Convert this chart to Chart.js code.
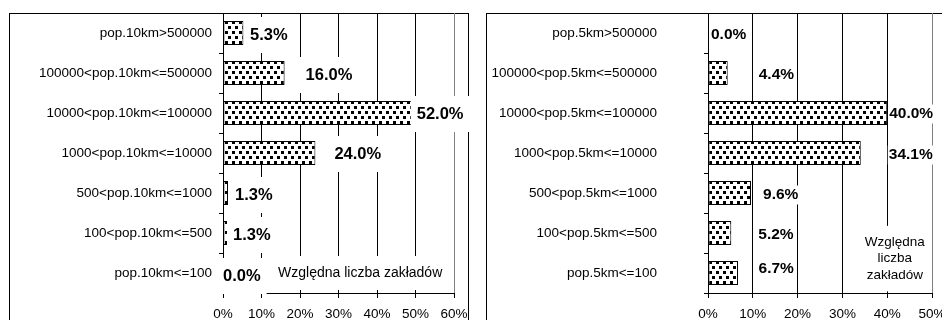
<!DOCTYPE html>
<html><head><meta charset="utf-8">
<script src="https://cdn.jsdelivr.net/npm/chart.js@4/dist/chart.umd.min.js"></script>
<style>
html,body{margin:0;padding:0;background:#fff;width:942px;height:320px;overflow:hidden;position:relative}
.box{position:absolute;border:1px solid #000;box-sizing:border-box}
#boxL{left:9px;top:13px;width:460px;height:400px}
#boxR{left:486px;top:13px;width:600px;height:400px}
canvas{position:absolute;top:0}
#cL{left:0}
#cR{left:470px}
</style></head><body>
<div class="box" id="boxL"></div><div class="box" id="boxR"></div>
<canvas id="cL" width="470" height="320"></canvas>
<canvas id="cR" width="480" height="320"></canvas>
<script>
// ---- data ----
const categoriesLeft = ['pop.10km>500000','100000<pop.10km<=500000','10000<pop.10km<=100000','1000<pop.10km<=10000','500<pop.10km<=1000','100<pop.10km<=500','pop.10km<=100'];
const valuesLeft = [5.3, 16.0, 52.0, 24.0, 1.3, 1.3, 0.0];
const categoriesRight = ['pop.5km>500000','100000<pop.5km<=500000','10000<pop.5km<=100000','1000<pop.5km<=10000','500<pop.5km<=1000','100<pop.5km<=500','pop.5km<=100'];
const valuesRight = [0.0, 4.4, 40.0, 34.1, 9.6, 5.2, 6.7];
const axisMaxLeft = 60;
const axisMaxRight = 50;
const axisStep = 10;
const noteText = 'Względna liczba zakładów';

// ---- styling / layout ----
const FONT = "'Liberation Sans', Arial, sans-serif";

function makePattern(){
  const c = document.createElement('canvas');
  c.width = 7; c.height = 10;
  const g = c.getContext('2d');
  g.fillStyle = '#fff'; g.fillRect(0,0,7,10);
  g.fillStyle = '#000';
  g.fillRect(1,1,3,3);
  g.fillRect(4,6,3,3);
  return g.createPattern(c, 'repeat');
}

const labelPlugin = {
  id: 'valueLabels',
  afterDatasetsDraw(chart, args, opts) {
    const ctx = chart.ctx;
    const xs = chart.scales.x, ys = chart.scales.y;
    const data = chart.data.datasets[0].data;
    ctx.save();
    ctx.textBaseline = 'middle';
    // note box
    const n = opts.note;
    ctx.font = n.font;
    const nx = xs.getPixelForValue(n.x);
    const ny = ys.getPixelForValue(n.y);
    let maxW = 0;
    n.lines.forEach(l => { maxW = Math.max(maxW, ctx.measureText(l).width); });
    const totalH = n.lines.length * n.lineH;
    const left = n.align === 'center' ? nx - maxW/2 : nx;
    ctx.fillStyle = '#fff';
    ctx.fillRect(left - n.padX, ny - totalH/2 - n.padY, maxW + 2*n.padX, totalH + 2*n.padY);
    // value labels
    ctx.font = opts.font;
    ctx.textAlign = 'left';
    data.forEach((v, i) => {
      const txt = v.toFixed(1) + '%';
      const x = xs.getPixelForValue(v) + opts.dx[i];
      const y = ys.getPixelForValue(i) + opts.dy[i];
      const w = ctx.measureText(txt).width;
      ctx.fillStyle = '#fff';
      ctx.fillRect(x - opts.padX, y - opts.h/2 - opts.padY, w + 2*opts.padX, opts.h + 2*opts.padY);
      ctx.fillStyle = '#000';
      ctx.fillText(txt, x, y);
    });
    // note text
    ctx.font = n.font;
    ctx.fillStyle = '#000';
    ctx.textAlign = n.align;
    n.lines.forEach((l, k) => {
      ctx.fillText(l, nx, ny - totalH/2 + n.lineH*(k+0.5));
    });
    ctx.restore();
  }
};

function build(canvasId, cats, vals, max, cfg) {
  return new Chart(document.getElementById(canvasId), {
    type: 'bar',
    data: {
      labels: cats,
      datasets: [{
        data: vals,
        backgroundColor: makePattern(),
        borderColor: '#000',
        borderWidth: 1,
        borderSkipped: false,
        barPercentage: 0.6,
        categoryPercentage: 1.0
      }]
    },
    options: {
      indexAxis: 'y',
      responsive: false,
      animation: false,
      devicePixelRatio: 1,
      layout: { padding: { top: 13, left: 0, right: cfg.padRight, bottom: 0 } },
      plugins: {
        legend: { display: false },
        tooltip: { enabled: false },
        valueLabels: cfg.labels
      },
      scales: {
        x: {
          min: 0, max: max,
          ticks: {
            stepSize: axisStep,
            callback: v => v + '%',
            color: '#000',
            font: { family: FONT, size: 13.5 },
            padding: 8,
            maxRotation: 0
          },
          grid: {
            color: c => (c.tick && c.tick.value === max) ? '#808080' : '#000',
            lineWidth: 1,
            tickLength: 5,
            tickColor: '#000'
          },
          border: { color: '#000', width: 1 },
          afterFit: s => { s.height = 27; s.paddingLeft = 0; s.paddingRight = 0; }
        },
        y: {
          ticks: {
            color: '#000',
            font: { family: FONT, size: 13.5 },
            padding: cfg.yPad,
            autoSkip: false
          },
          grid: {
            drawOnChartArea: false,
            tickLength: 4,
            color: '#000'
          },
          border: { color: '#000', width: 1 },
          afterFit: s => { s.width = cfg.yWidth; s.paddingTop = 0; s.paddingBottom = 0; }
        }
      }
    },
    plugins: [labelPlugin]
  });
}

build('cL', categoriesLeft, valuesLeft, axisMaxLeft, {
  padRight: 16, yWidth: 223, yPad: 7,
  labels: {
    font: 'bold 16.5px ' + FONT, h: 16, padX: 6, padY: 10,
    dx: [6.6, 21, -6.5, 19, 7, 5, 0],
    dy: [2, 2, 1, 1, 2, 2, 3],
    note: { lines: [noteText], x: 14.3, y: 6, font: '14px ' + FONT, lineH: 16, align: 'left', padX: 6, padY: 9 }
  }
});

build('cR', categoriesRight, valuesRight, axisMaxRight, {
  padRight: 18, yWidth: 238, yPad: 47,
  labels: {
    font: 'bold 15.5px ' + FONT, h: 15, padX: 1, padY: 2,
    dx: [3, 31, 2, 28, 12, 27, 20.5],
    dy: [2, 2, 1, 2, 2, 2, -4],
    note: { lines: ['Względna', 'liczba', 'zakładów'], x: 41.7, y: 5.64, font: '13.5px ' + FONT, lineH: 16.5, align: 'center', padX: 5, padY: 8 }
  }
});
</script>
</body></html>
